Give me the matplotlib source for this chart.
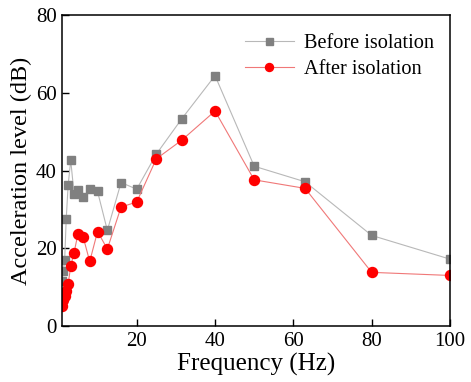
import matplotlib
matplotlib.use("Agg")
import matplotlib.pyplot as plt

plt.rcParams['font.family'] = ['Liberation Serif', 'DejaVu Serif']

# 1/3 octave band centre frequencies (Hz)
freq = [1, 1.25, 1.6, 2, 2.5, 3.15, 4, 5, 6.3, 8, 10, 12.5, 16, 20,
        25, 31.5, 40, 50, 63, 80, 100]
before = [11.5, 14.2, 17.0, 27.6, 36.4, 42.6, 34.0, 34.9, 33.1, 35.2, 34.6,
          24.6, 36.9, 35.2, 44.2, 53.3, 64.4, 41.1, 37.1, 23.3, 17.2]
after = [5.2, 6.8, 7.8, 9.0, 10.9, 15.4, 18.9, 23.7, 23.0, 16.6, 24.3,
         19.8, 30.6, 31.9, 43.0, 47.8, 55.3, 37.6, 35.4, 13.8, 13.0]

fig = plt.figure(figsize=(4.71, 3.82), dpi=100)
ax = fig.add_axes([0.1323, 0.1466, 0.8231, 0.8141])

ax.plot(freq, before, color='#b8b8b8', linewidth=0.8, marker='s',
        markersize=6.3, markerfacecolor='#808080', markeredgecolor='#808080',
        label='Before isolation', zorder=3)
ax.plot(freq, after, color='#f07878', linewidth=0.8, marker='o',
        markersize=7.2, markerfacecolor='#ff0000', markeredgecolor='#ff0000',
        label='After isolation', zorder=4)

ax.set_xlim(1, 100)
ax.set_ylim(0, 80)
ax.set_xticks([20, 40, 60, 80, 100])
ax.set_yticks([0, 20, 40, 60, 80])
ax.tick_params(direction='in', length=5, width=1, labelsize=15, pad=4)
for s in ax.spines.values():
    s.set_linewidth(1.1)
    s.set_zorder(5)

ax.set_xlabel('Frequency (Hz)', fontsize=18, labelpad=2)
ax.set_ylabel('Acceleration level (dB)', fontsize=17.5, labelpad=3)

ax.legend(loc='upper right', frameon=False, fontsize=14.6, handlelength=2.4,
          markerscale=0.8, labelspacing=0.35, borderaxespad=0.3,
          handletextpad=0.5, bbox_to_anchor=(0.995, 0.985))

fig.savefig('out.png', dpi=100)
